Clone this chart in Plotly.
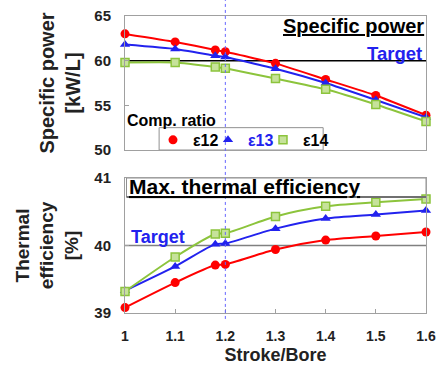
import plotly.graph_objects as go
from plotly.subplots import make_subplots

stroke_bore = [1.0, 1.1, 1.18, 1.2, 1.3, 1.4, 1.5, 1.6]
series_names = ["ε12", "ε13", "ε14"]
power_e12 = [63.0, 62.1, 61.2, 61.0, 59.7, 57.9, 56.1, 53.9]
power_e13 = [61.8, 61.3, 60.55, 60.4, 59.1, 57.5, 55.6, 53.65]
power_e14 = [59.8, 59.8, 59.3, 59.15, 58.0, 56.8, 55.1, 53.2]
eff_e12 = [39.08, 39.45, 39.71, 39.72, 39.94, 40.08, 40.14, 40.20]
eff_e13 = [39.33, 39.69, 40.02, 40.03, 40.25, 40.40, 40.46, 40.52]
eff_e14 = [39.32, 39.83, 40.17, 40.18, 40.43, 40.58, 40.64, 40.69]
power_target = 60
eff_target = 40
design_point = 1.2
x_ticks = [1, 1.1, 1.2, 1.3, 1.4, 1.5, 1.6]
x_tick_text = ["1", "1.1", "1.2", "1.3", "1.4", "1.5", "1.6"]

RED = "#ff0000"
BLUE = "#2222ee"
GREEN = "#8cc43c"
GREEN_FILL = "#c6e29a"
GRID = "#a0a0a0"
FONT = "Liberation Sans, Arial, sans-serif"

fig = make_subplots(rows=2, cols=1, shared_xaxes=False)

styles = [
    dict(color=RED, marker=dict(symbol="circle", size=9, color=RED)),
    dict(color=BLUE, marker=dict(symbol="triangle-up", size=9, color=BLUE)),
    dict(color=GREEN, marker=dict(symbol="square", size=8, color=GREEN_FILL,
                                  line=dict(color=GREEN, width=1.5))),
]

for vals, st in zip([power_e12, power_e13, power_e14], styles):
    fig.add_trace(go.Scatter(x=stroke_bore, y=vals, mode="lines+markers",
                             line=dict(color=st["color"], width=2, shape="spline", smoothing=0.4),
                             marker=st["marker"], cliponaxis=False, showlegend=False),
                  row=1, col=1)
for vals, st in zip([eff_e12, eff_e13, eff_e14], styles):
    fig.add_trace(go.Scatter(x=stroke_bore, y=vals, mode="lines+markers",
                             line=dict(color=st["color"], width=2, shape="spline", smoothing=0.7),
                             marker=st["marker"], cliponaxis=False, showlegend=False),
                  row=2, col=1)

legend_names = ["ε12", "<span style='color:%s'>ε13</span>" % BLUE, "ε14"]
for name, st in zip(legend_names, styles):
    fig.add_trace(go.Scatter(x=[None], y=[None], mode="markers", marker=st["marker"],
                             name=name, showlegend=True), row=1, col=1)
# spacer entry so the last legend label is not clipped (box is drawn as a shape)
fig.add_trace(go.Scatter(x=[None], y=[None], mode="markers",
                         marker=dict(color="rgba(0,0,0,0)", size=1, line=dict(width=0)),
                         name=" ", showlegend=True), row=1, col=1)

# target lines
fig.add_shape(type="line", xref="x", yref="y", x0=stroke_bore[0], x1=stroke_bore[-1],
              y0=power_target, y1=power_target, line=dict(color="black", width=1.5), layer="below")
fig.add_shape(type="line", xref="x2", yref="y2", x0=stroke_bore[0], x1=stroke_bore[-1],
              y0=eff_target, y1=eff_target, line=dict(color="#808080", width=1.5), layer="below")
# title box in bottom chart
fig.add_shape(type="rect", xref="x2 domain", yref="y2", x0=0.005, x1=1, y0=40.72, y1=41,
              fillcolor="white", line=dict(color="#909090", width=1), layer="below")
fig.add_shape(type="line", xref="x2 domain", yref="y2", x0=0.005, x1=1, y0=40.72, y1=40.72,
              line=dict(color="#707070", width=2))
# legend box
fig.add_shape(type="rect", xref="x", yref="y", x0=1.068, x1=1.395, y0=50.0, y1=52.5,
              fillcolor="white", line=dict(color="#909090", width=1), layer="below")
# vertical dashed design line
fig.add_shape(type="line", xref="x", yref="paper", x0=design_point, x1=design_point,
              y0=-0.02, y1=1.054, line=dict(color="#6666ff", width=1, dash="3px,3px"), layer="above")

fig.add_annotation(xref="x", yref="y", x=1.6, y=63.9, text="<b><u>Specific power</u></b>",
                   showarrow=False, xanchor="right", font=dict(family=FONT, size=20, color="black"))
fig.add_annotation(xref="x", yref="y", x=1.596, y=60.8, text="<b>Target</b>",
                   showarrow=False, xanchor="right", font=dict(family=FONT, size=18.5, color=BLUE))
fig.add_annotation(xref="x", yref="y", x=1.0, y=53.3, text="<b>Comp. ratio</b>",
                   showarrow=False, xanchor="left", font=dict(family=FONT, size=16, color="black"))
fig.add_annotation(xref="x2", yref="y2", x=1.003, y=40.87, text="<b><u>Max. thermal efficiency</u></b>",
                   showarrow=False, xanchor="left", font=dict(family=FONT, size=21, color="black"))
fig.add_annotation(xref="x2", yref="y2", x=1.007, y=40.12, text="<b>Target</b>",
                   showarrow=False, xanchor="left", font=dict(family=FONT, size=18, color=BLUE))

axis_common = dict(showline=True, linecolor=GRID, linewidth=1, mirror=True, showgrid=False,
                   zeroline=False, ticks="inside", ticklen=4, tickcolor=GRID, automargin=False,
                   tickfont=dict(family=FONT, size=15, color="#222", weight="bold"))
fig.update_xaxes(range=[1, 1.6], tickvals=x_ticks, ticktext=x_tick_text, **axis_common)
fig.update_xaxes(showticklabels=False, ticks="", row=1, col=1)
fig.update_xaxes(tickfont=dict(family=FONT, size=14, color="#222", weight="bold"), ticklabelstandoff=10,
                 title=dict(text="<b>Stroke/Bore</b>", font=dict(family=FONT, size=18, color="#222"),
                            standoff=6), row=2, col=1)
fig.update_yaxes(range=[50, 65], tickvals=[50, 55, 60, 65], ticklabelstandoff=10, **axis_common, row=1, col=1)
fig.update_yaxes(range=[39, 41], tickvals=[39, 40, 41], ticklabelstandoff=10, **axis_common, row=2, col=1)
fig.update_yaxes(title=dict(text="<b>Specific power<br>[kW/L]</b>",
                            font=dict(family=FONT, size=20, color="#222"), standoff=8), row=1, col=1)
fig.update_yaxes(title=dict(text="<b>Thermal<br>efficiency<br>[%]</b>",
                            font=dict(family=FONT, size=19, color="#222"), standoff=10), row=2, col=1)

fig.update_layout(
    width=437, height=365,
    margin=dict(l=125, r=11, t=16, b=52, autoexpand=False),
    paper_bgcolor="white", plot_bgcolor="white",
    xaxis=dict(domain=[0, 1], anchor="y"),
    xaxis2=dict(domain=[0, 1], anchor="y2"),
    yaxis=dict(domain=[0.5488, 1]),
    yaxis2=dict(domain=[0, 0.4545]),
    legend=dict(orientation="h", x=0.093, y=0.64, xanchor="left", yanchor="top",
                bgcolor="rgba(0,0,0,0)", borderwidth=0,
                font=dict(family=FONT, size=16, color="black", weight="bold"),
                itemwidth=30, tracegroupgap=0, itemsizing="trace",
                entrywidth=10, entrywidthmode="pixels"),
    font=dict(family=FONT),
)

fig.write_html("out.html", config={"displayModeBar": False},
               post_script="document.body.style.margin='0px';")
